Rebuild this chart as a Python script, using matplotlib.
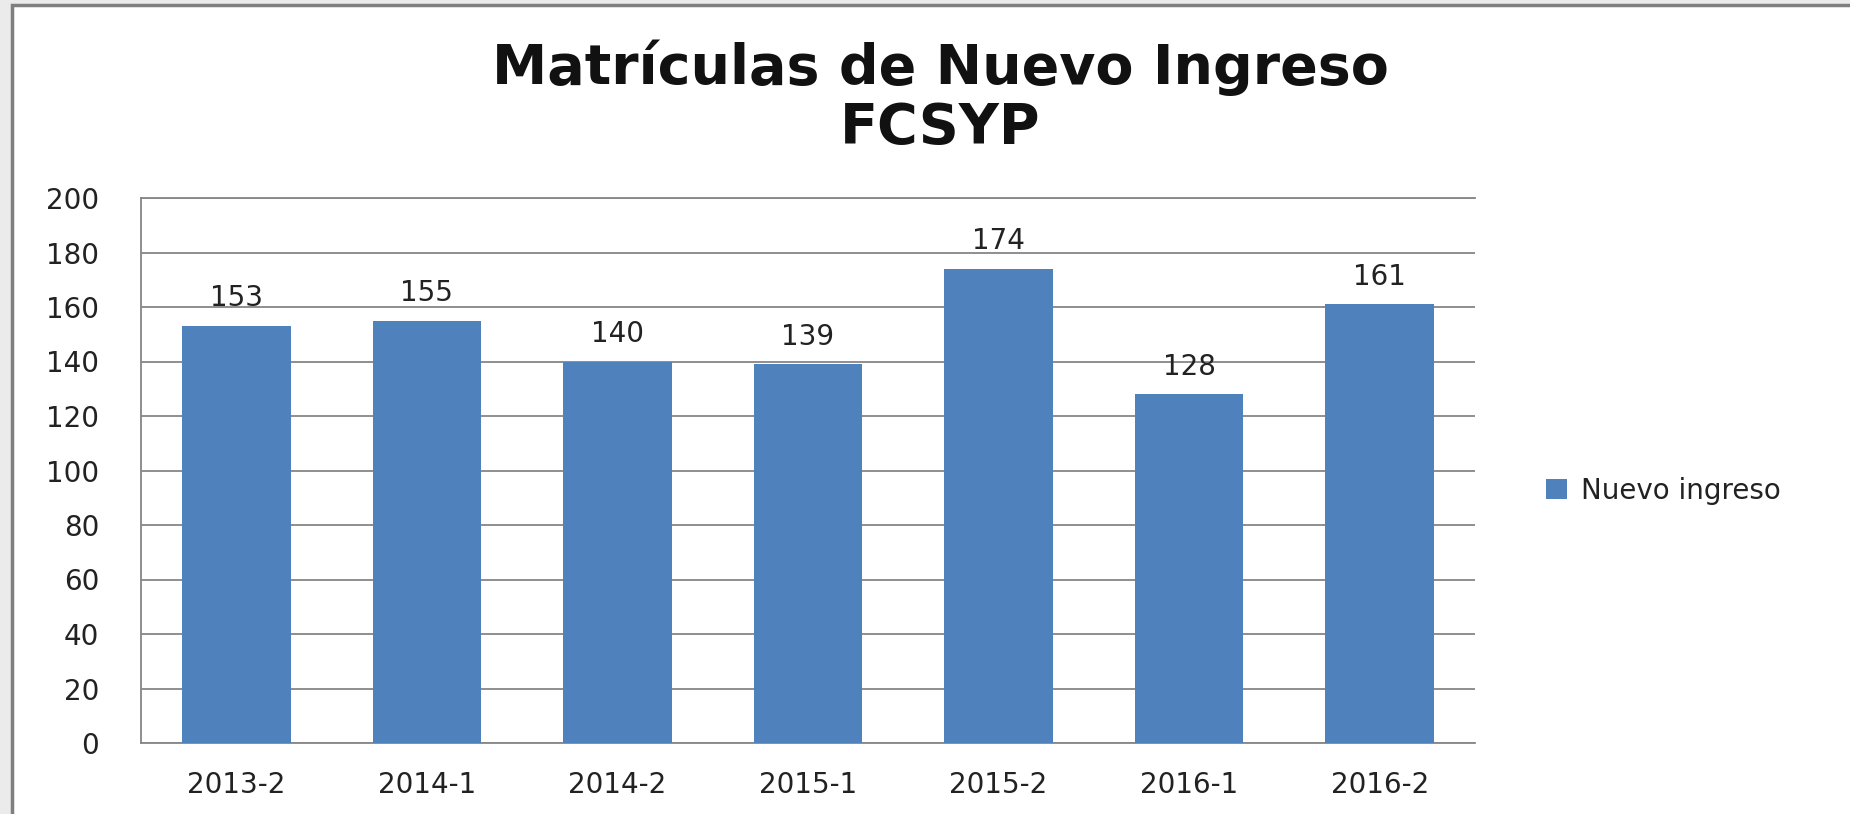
import matplotlib
matplotlib.use("Agg")
import matplotlib.pyplot as plt
from matplotlib.patches import Rectangle

categories = ["2013-2", "2014-1", "2014-2", "2015-1", "2015-2", "2016-1", "2016-2"]
values = [153, 155, 140, 139, 174, 128, 161]
series_name = "Nuevo ingreso"
title_lines = ["Matrículas de Nuevo Ingreso", "FCSYP"]
yticks = list(range(0, 201, 20))

plt.rcParams['font.family'] = ['DejaVu Sans']

fig = plt.figure(figsize=(18.5, 8.14), dpi=100)
fig.patch.set_facecolor("#ebebeb")
# white chart frame with grey border
frame = Rectangle((12/1850, -0.05), 1.1, 1 - 5/814 + 0.05, transform=fig.transFigure,
                  facecolor="white", edgecolor="#7f7f7f", linewidth=2.5, zorder=-5)
fig.patches.append(frame)

ax = fig.add_axes([141/1850, 1 - 743/814, (1475 - 141)/1850, (743 - 198)/814])
ax.set_zorder(2)
ax.set_facecolor("none")
x = range(len(categories))
bars = ax.bar(x, values, width=0.57, color="#4F81BD", label=series_name, zorder=3)
for xi, v in zip(x, values):
    ax.text(xi, v + 5, str(v), ha="center", va="bottom", fontsize=20, color="#222222")

ax.set_ylim(0, 200)
ax.set_xlim(-0.5, len(categories) - 0.5)
ax.set_yticks(yticks)
ax.set_xticks(list(x))
ax.set_xticklabels(categories)
ax.tick_params(axis="both", length=0, labelsize=20, colors="#222222")
ax.tick_params(axis="y", pad=30)
ax.tick_params(axis="x", pad=20)
ax.grid(axis="y", color="#868686", linewidth=1.3, zorder=0)
ax.spines["right"].set_visible(False)
for s in ["left", "bottom", "top"]:
    ax.spines[s].set_color("#868686")
    ax.spines[s].set_linewidth(1.3)

fig.text(940/1850, 1 - 68/814, title_lines[0], ha="center", va="center", fontsize=40,
         fontweight="bold", color="#111111")
fig.text(940/1850, 1 - 128/814, title_lines[1], ha="center", va="center", fontsize=40,
         fontweight="bold", color="#111111")

leg = fig.legend(handles=[bars], labels=[series_name], loc="center left",
                 bbox_to_anchor=(1521/1850, 1 - 491/814), frameon=False,
                 fontsize=20, handlelength=0.75, handleheight=0.75, handletextpad=0.5)
for t in leg.get_texts():
    t.set_color("#222222")

fig.savefig("out.png", dpi=100)
